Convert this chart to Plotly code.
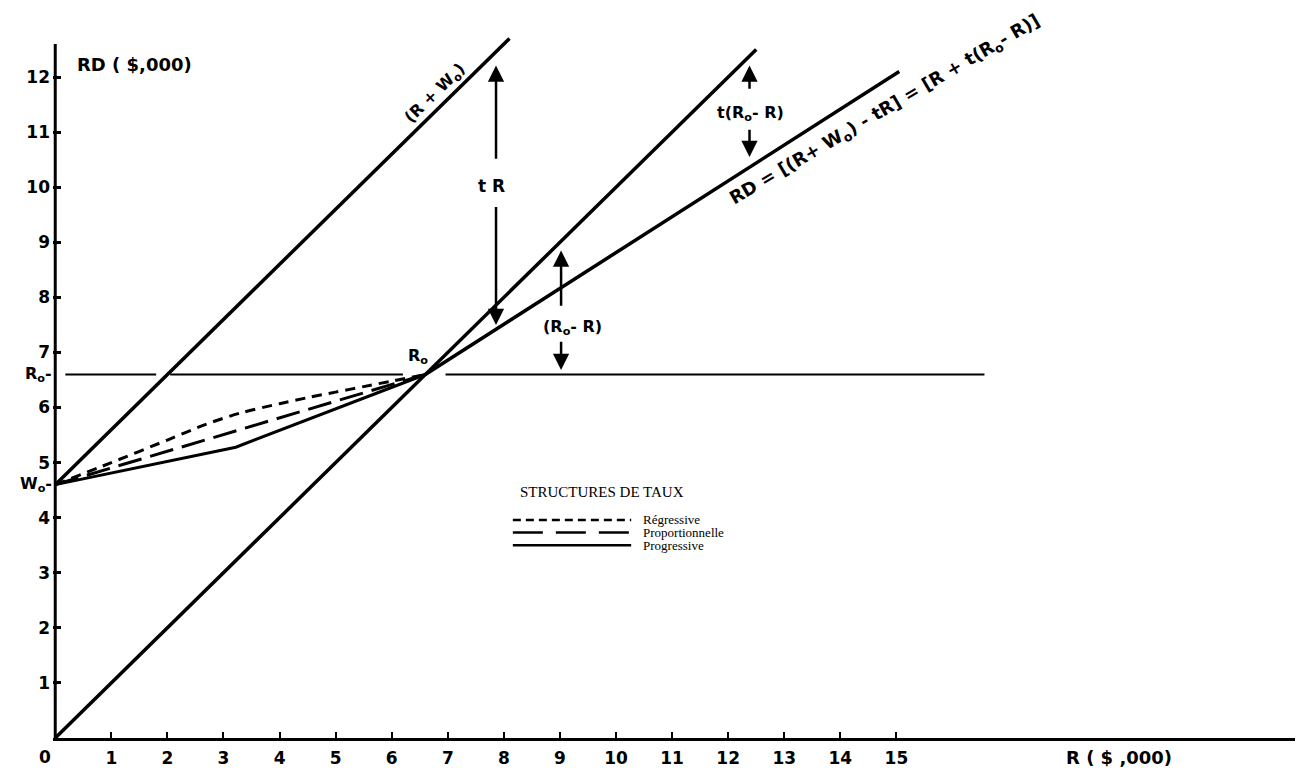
import plotly.graph_objects as go

# ---- data (units: $000) ----
W0 = 4.6
R0 = 6.6
x_ticks = list(range(1, 16))
y_ticks = list(range(1, 13))
X_RANGE = [-0.04, 22.25]

line_RW0_x = [0, 8.1]
line_RW0_y = [4.6, 12.7]

line_45_x = [0, 12.5]
line_45_y = [0, 12.5]

line_RD_x = [6.6, 15.05]
line_RD_y = [6.6, 12.1]

prog_x = [0, 3.22, 6.6]
prog_y = [4.6, 5.28, 6.6]

prop_x = [0, 6.6]
prop_y = [4.6, 6.6]

regr_x = [0, 1.0, 2.0, 2.7, 3.3, 4.0, 4.5, 5.0, 5.5, 6.0, 6.6]
regr_y = [4.6, 5.0, 5.41, 5.7, 5.9, 6.07, 6.18, 6.28, 6.38, 6.48, 6.6]

r0_line_x = [0.18, 1.8, None, 2.05, 6.2, None, 6.96, 16.57]
r0_line_y = [6.6, 6.6, None, 6.6, 6.6, None, 6.6, 6.6]

legend_names = ["Régressive", "Proportionnelle", "Progressive"]
legend_rows_y = [3.96, 3.73, 3.50]
legend_x = [8.16, 10.27]

FONT_SANS = "DejaVu Sans"
BOLD = dict(family=FONT_SANS, size=17, color="black", weight="bold")
SERIF = dict(family="Liberation Serif", size=13, color="black")

fig = go.Figure()

def add_line(x, y, dash="solid", width=3.5, shape="linear"):
    fig.add_trace(go.Scatter(x=x, y=y, mode="lines", showlegend=False,
                             hoverinfo="skip",
                             line=dict(color="black", width=width, dash=dash,
                                       shape=shape, smoothing=0.8 if shape == "spline" else None)))

add_line(line_RW0_x, line_RW0_y)
add_line(line_45_x, line_45_y)
add_line(line_RD_x, line_RD_y)
add_line(prog_x, prog_y, width=3)
add_line(prop_x, prop_y, dash="24px,9px", width=3)
add_line(regr_x, regr_y, dash="10px,7px", width=3, shape="spline")
add_line(r0_line_x, r0_line_y, width=2.2)

# legend keys
legend_dash = ["8px,5px", "30px,13px", "solid"]
for yy, d in zip(legend_rows_y, legend_dash):
    add_line(legend_x, [yy, yy], dash=d, width=2.5)

annotations = []
for name, yy in zip(legend_names, legend_rows_y):
    annotations.append(dict(x=10.45, y=yy, text=name, showarrow=False,
                            xanchor="left", yanchor="middle", font=SERIF))
annotations.append(dict(x=9.75, y=4.47, text="STRUCTURES DE TAUX", showarrow=False,
                        xanchor="center", yanchor="middle",
                        font=dict(family="Liberation Serif", size=15, color="black")))

# arrows (head at x,y ; tail at ax,ay)
arrows = [
    (7.86, 12.21, 7.86, 10.49),
    (7.86, 7.5, 7.86, 9.67),
    (12.38, 12.21, 12.38, 11.76),
    (12.38, 10.55, 12.38, 11.07),
    (9.02, 8.85, 9.02, 7.82),
    (9.02, 6.68, 9.02, 7.22),
]
for hx, hy, tx, ty in arrows:
    annotations.append(dict(x=hx, y=hy, ax=tx, ay=ty, xref="x", yref="y",
                            axref="x", ayref="y", text="", showarrow=True,
                            arrowhead=2, arrowsize=1.3, arrowwidth=2.5,
                            arrowcolor="black", standoff=0, startstandoff=0))

zero_paper_x = (-0.18 - X_RANGE[0]) / (X_RANGE[1] - X_RANGE[0])

# labels
annotations += [
    dict(x=7.78, y=10.02, text="t R", showarrow=False, font=BOLD),
    dict(x=12.4, y=11.34, text="t(R<sub>o</sub>- R)", showarrow=False,
         font=dict(BOLD, size=16)),
    dict(x=9.22, y=7.46, text="(R<sub>o</sub>- R)", showarrow=False,
         font=dict(BOLD, size=16)),
    dict(x=6.47, y=6.93, text="R<sub>o</sub>", showarrow=False, font=dict(BOLD, size=16)),
    dict(x=6.78, y=11.7, text="(R + W<sub>o</sub>)", showarrow=False, textangle=-44.5,
         font=dict(BOLD, size=16)),
    dict(x=14.8, y=11.4,
         text="RD = [(R+ W<sub>o</sub>) - tR] = [R + t(R<sub>o</sub>- R)]",
         showarrow=False, textangle=-30.5, font=dict(BOLD, size=18)),
    dict(x=0.35, y=12.23, text="RD ( $,000)", showarrow=False, xanchor="left",
         font=dict(BOLD, size=18)),
    dict(x=18.96, y=0, yshift=-19, text="R ( $ ,000)", showarrow=False,
         font=dict(BOLD, size=18)),
    dict(x=zero_paper_x, y=0, xref="paper", yref="paper", yshift=-19, text="0",
         xanchor="center", yanchor="middle", showarrow=False, font=BOLD),
    dict(x=0, y=R0, xanchor="right", xshift=-1, text="R<sub>o</sub>-", showarrow=False,
         font=dict(BOLD, size=16)),
    dict(x=0, y=W0, xanchor="right", xshift=-1, text="W<sub>o</sub>-", showarrow=False,
         font=dict(BOLD, size=16)),
]

# the page adds an 8px body margin, so offsets compensate for it
fig.update_layout(
    width=1303, height=776,
    margin=dict(l=45, r=8, t=25, b=46),
    paper_bgcolor="white", plot_bgcolor="white",
    annotations=annotations,
    shapes=[dict(type="line", xref="x", yref="y", x0=0, x1=0, y0=0, y1=12.6,
                 line=dict(color="black", width=3))],
    xaxis=dict(range=X_RANGE, showgrid=False, zeroline=False, automargin=False,
               showline=True, linecolor="black", linewidth=3,
               ticks="inside", ticklen=6, tickwidth=2, tickcolor="black",
               tickvals=x_ticks, ticktext=[str(v) for v in x_ticks],
               tickfont=BOLD, ticklabelstandoff=3),
    yaxis=dict(range=[0, 12.8], showgrid=False, zeroline=False, showline=False,
               automargin=False,
               ticks="inside", ticklen=8, tickwidth=2.5, tickcolor="black",
               tickvals=y_ticks, ticktext=[str(v) for v in y_ticks],
               tickfont=BOLD, ticklabelstandoff=2),
)

fig.write_html("out.html")
